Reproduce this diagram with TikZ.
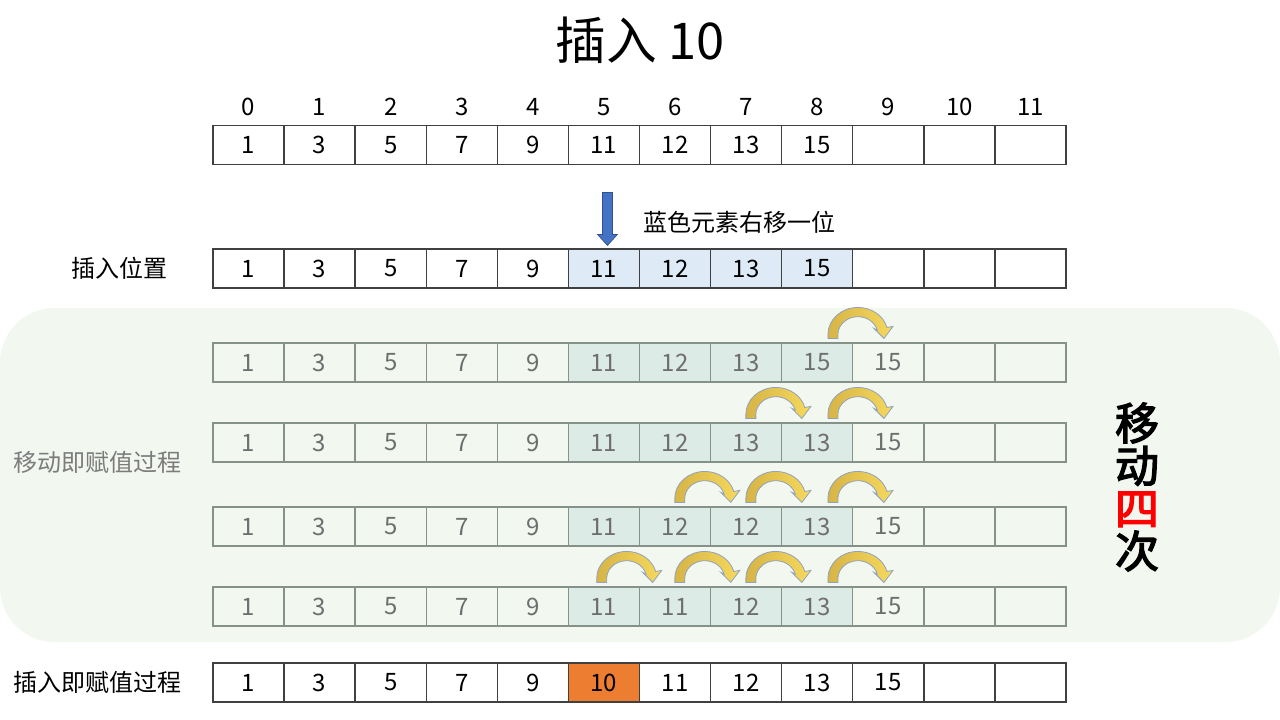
\documentclass[tikz,border=0pt]{standalone}
\usepackage{fontspec}
\setmainfont{Noto Sans CJK SC}
\newfontfamily\cjkmed[FakeBold=3]{Noto Sans CJK SC}
\usetikzlibrary{calc}
\definecolor{bgG}{HTML}{F2F7F0}
\definecolor{hlB}{HTML}{DEEBF7}
\definecolor{hlG}{HTML}{DDEBE7}
\definecolor{orA}{HTML}{ED7D31}
\definecolor{blA}{HTML}{4472C4}
\definecolor{blB}{HTML}{2F528F}
\definecolor{gyT}{HTML}{6E6E6E}
\definecolor{gyL}{HTML}{86918A}
\definecolor{arD}{HTML}{D6B446}
\definecolor{arL}{HTML}{F7D95C}
\definecolor{arE}{HTML}{8FA2BF}
\begin{document}
\begin{tikzpicture}[x=0.75pt,y=-0.75pt,
  cellbox/.style={draw=black!75, line width=1.1pt, minimum width=53.31pt, minimum height=29pt, inner sep=0pt, font=\fontsize{18}{18}\selectfont},
  cellgray/.style={cellbox, draw=gyL, text=gyT},
  idx/.style={font=\fontsize{18}{18}\selectfont, inner sep=0pt},
  lbl/.style={font=\fontsize{18}{18}\selectfont, inner sep=0pt},
  arrowshape/.style={left color=arD, right color=arL, draw=arE, line width=0.6pt},
  carrow/.pic={\path[arrowshape] (-5,0) -- (-5,-4) arc[start angle=180,end angle=345,x radius=30,y radius=27] -- (60,-12) -- (51,0) -- (41,-10) -- (44.3,-8.4) arc[start angle=345,end angle=180,x radius=20,y radius=18] -- (5,0) -- cycle;}
]
\fill[white] (0,0) rectangle (1280,720);
\useasboundingbox (0,0) rectangle (1280,720);
\fill[bgG, rounded corners=41pt] (0,308) rectangle (1280,642);

\node[font=\fontsize{38}{38}\selectfont] (title) at (640,40) {插入 10};

\foreach \i in {0,...,11}
  \node[idx] (ix\i) at ({248.54+71.0833*\i},107) {\i};

% row 1
\foreach \v [count=\i from 0] in {1,3,5,7,9,11,12,13,15,{},{},{}}
  \node[cellbox] (a\i) at ({248.54+71.0833*\i},145) {\v};

% row 2
\foreach \v/\f [count=\i from 0] in {1/none,3/none,5/none,7/none,9/none,11/hlB,12/hlB,13/hlB,15/hlB,/none,/none,/none}
  \node[cellbox, fill=\f] (b\i) at ({248.54+71.0833*\i},268.5) {\v};

% rows 3-6
\foreach \v/\f [count=\i from 0] in {1/none,3/none,5/none,7/none,9/none,11/hlG,12/hlG,13/hlG,15/hlG,15/none,/none,/none}
  \node[cellgray, fill=\f] (c\i) at ({248.54+71.0833*\i},362.5) {\v};
\foreach \v/\f [count=\i from 0] in {1/none,3/none,5/none,7/none,9/none,11/hlG,12/hlG,13/hlG,13/hlG,15/none,/none,/none}
  \node[cellgray, fill=\f] (d\i) at ({248.54+71.0833*\i},442.5) {\v};
\foreach \v/\f [count=\i from 0] in {1/none,3/none,5/none,7/none,9/none,11/hlG,12/hlG,12/hlG,13/hlG,15/none,/none,/none}
  \node[cellgray, fill=\f] (e\i) at ({248.54+71.0833*\i},526.5) {\v};
\foreach \v/\f [count=\i from 0] in {1/none,3/none,5/none,7/none,9/none,11/hlG,11/hlG,12/hlG,13/hlG,15/none,/none,/none}
  \node[cellgray, fill=\f] (f\i) at ({248.54+71.0833*\i},606.5) {\v};

% row 7
\foreach \v/\f [count=\i from 0] in {1/none,3/none,5/none,7/none,9/none,10/orA,11/none,12/none,13/none,15/none,/none,/none}
  \node[cellbox, fill=\f] (g\i) at ({248.54+71.0833*\i},682.5) {\v};

% curved arrows
\pic at ($(c8.north west)+(52,-4)$) {carrow};
\pic at ($(d7.north west)+(41,-4)$) {carrow};
\pic at ($(d8.north west)+(52,-4)$) {carrow};
\pic at ($(e6.north west)+(41,-4)$) {carrow};
\pic at ($(e7.north west)+(41,-4)$) {carrow};
\pic at ($(e8.north west)+(52,-4)$) {carrow};
\pic at ($(f5.north west)+(34,-4)$) {carrow};
\pic at ($(f6.north west)+(41,-4)$) {carrow};
\pic at ($(f7.north west)+(41,-4)$) {carrow};
\pic at ($(f8.north west)+(52,-4)$) {carrow};

% blue arrow
\coordinate (btip) at ($(b5.north)+(3.5,-3)$);
\filldraw[fill=blA, draw=blB, line width=0.5pt] (btip) -- ++(-10,-11) -- ++(5,0) -- ++(0,-42) -- ++(10,0) -- ++(0,42) -- ++(5,0) -- cycle;
\node[lbl] (note) at (739,222) {蓝色元素右移一位};

% labels
\node[lbl] (l1) at (119,268) {插入位置};
\node[lbl, text=gyT!90] (l2) at (97,462) {移动即赋值过程};
\node[lbl] (l3) at (97,682) {插入即赋值过程};

\node[font=\fontsize{33}{32}\selectfont\cjkmed, align=center, inner sep=0pt] (mv) at (1137,487) {移\\动\\\textcolor{red}{四}\\次};
\end{tikzpicture}
\end{document}
